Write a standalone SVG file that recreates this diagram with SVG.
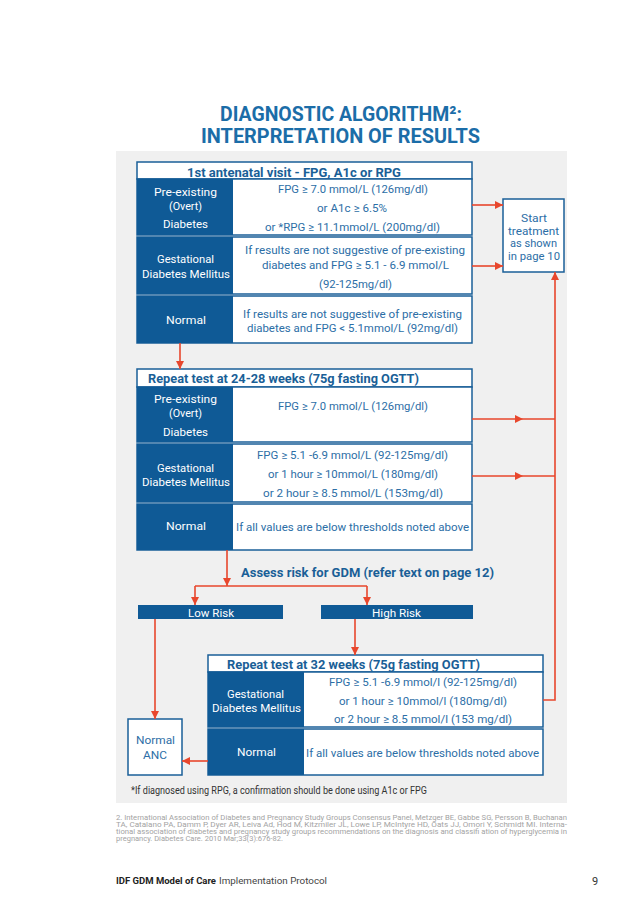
<svg xmlns="http://www.w3.org/2000/svg" width="638" height="905" viewBox="0 0 638 905">
<style>
text{font-family:Roboto,"Liberation Sans",sans-serif}
.title{font-size:21px;font-weight:bold;fill:#1b6da8}
.hdr{font-size:12.5px;font-weight:bold;fill:#1a5f97}
.lt{font-size:11.5px;fill:#ffffff}
.rt{font-size:11.5px;fill:#2c6ea6}
.st{font-size:10.5px;fill:#2c6ea6}
.row{fill:#ffffff;stroke:#1a5f98;stroke-width:1.5}
.dk{fill:#0f5a96}
.box{fill:#ffffff;stroke:#1a5f98;stroke-width:1.5}
.con{fill:none;stroke:#e8472d;stroke-width:1.6}
.ref{font-size:6.5px;fill:#a3a3a3}
</style>
<defs>
<marker id="ah" viewBox="0 0 10 10" refX="10" refY="5" markerWidth="9" markerHeight="8" markerUnits="userSpaceOnUse" orient="auto"><path d="M0,0 L10,5 L0,10 z" fill="#e8472d"/></marker>
</defs>
<rect x="0" y="0" width="638" height="905" fill="#ffffff"/>
<rect x="116" y="151" width="451" height="652" fill="#f0f0f0"/>
<g id="title">
<text class="title" x="220" y="121" textLength="242" lengthAdjust="spacingAndGlyphs">DIAGNOSTIC ALGORITHM²:</text>
<text class="title" x="201" y="143" textLength="279" lengthAdjust="spacingAndGlyphs">INTERPRETATION OF RESULTS</text>
</g>
<g id="box1">
<rect x="137" y="162" width="335" height="181" fill="#ffffff"/>
<rect class="row" x="137" y="162" width="335" height="17"/>
<text class="hdr" x="187" y="176.5" textLength="214" lengthAdjust="spacingAndGlyphs">1st antenatal visit - FPG, A1c or RPG</text>
<rect class="row" x="137" y="179" width="335" height="56"/>
<rect class="dk" x="137" y="179" width="96" height="56"/>
<rect class="row" x="137" y="237" width="335" height="57"/>
<rect class="dk" x="137" y="237" width="96" height="57"/>
<rect class="row" x="137" y="296" width="335" height="47"/>
<rect class="dk" x="137" y="296" width="96" height="47"/>
<text class="lt" x="154" y="196" textLength="63" lengthAdjust="spacingAndGlyphs">Pre-existing</text>
<text class="lt" x="169" y="210" textLength="33" lengthAdjust="spacingAndGlyphs">(Overt)</text>
<text class="lt" x="163" y="228" textLength="45" lengthAdjust="spacingAndGlyphs">Diabetes</text>
<text class="rt" x="278" y="193" textLength="150" lengthAdjust="spacingAndGlyphs">FPG ≥ 7.0 mmol/L (126mg/dl)</text>
<text class="rt" x="317" y="212" textLength="70" lengthAdjust="spacingAndGlyphs">or A1c ≥ 6.5%</text>
<text class="rt" x="265" y="231" textLength="175" lengthAdjust="spacingAndGlyphs">or *RPG ≥ 11.1mmol/L (200mg/dl)</text>
<text class="lt" x="157" y="263" textLength="57" lengthAdjust="spacingAndGlyphs">Gestational</text>
<text class="lt" x="142" y="278" textLength="88" lengthAdjust="spacingAndGlyphs">Diabetes Mellitus</text>
<text class="rt" x="245" y="254" textLength="220" lengthAdjust="spacingAndGlyphs">If results are not suggestive of pre-existing</text>
<text class="rt" x="262" y="269" textLength="187" lengthAdjust="spacingAndGlyphs">diabetes and FPG ≥ 5.1 - 6.9 mmol/L</text>
<text class="rt" x="319" y="288" textLength="73" lengthAdjust="spacingAndGlyphs">(92-125mg/dl)</text>
<text class="lt" x="166" y="324" textLength="40" lengthAdjust="spacingAndGlyphs">Normal</text>
<text class="rt" x="243" y="318" textLength="219" lengthAdjust="spacingAndGlyphs">If results are not suggestive of pre-existing</text>
<text class="rt" x="247" y="332" textLength="211" lengthAdjust="spacingAndGlyphs">diabetes and FPG &lt; 5.1mmol/L (92mg/dl)</text>
</g>
<g id="start">
<rect class="box" x="503" y="199" width="61" height="73"/>
<text class="st" x="521" y="222" textLength="26" lengthAdjust="spacingAndGlyphs">Start</text>
<text class="st" x="508" y="234.5" textLength="51" lengthAdjust="spacingAndGlyphs">treatment</text>
<text class="st" x="510" y="247" textLength="47" lengthAdjust="spacingAndGlyphs">as shown</text>
<text class="st" x="508" y="259.5" textLength="52" lengthAdjust="spacingAndGlyphs">in page 10</text>
</g>
<g id="box2">
<rect x="137" y="369" width="335" height="181" fill="#ffffff"/>
<rect class="row" x="137" y="369" width="335" height="18"/>
<text class="hdr" x="148" y="383" textLength="271" lengthAdjust="spacingAndGlyphs">Repeat test at 24-28 weeks (75g fasting OGTT)</text>
<rect class="row" x="137" y="387" width="335" height="55"/>
<rect class="dk" x="137" y="387" width="96" height="55"/>
<rect class="row" x="137" y="444" width="335" height="58"/>
<rect class="dk" x="137" y="444" width="96" height="58"/>
<rect class="row" x="137" y="504" width="335" height="46"/>
<rect class="dk" x="137" y="504" width="96" height="46"/>
<text class="lt" x="154" y="403" textLength="63" lengthAdjust="spacingAndGlyphs">Pre-existing</text>
<text class="lt" x="169" y="417" textLength="33" lengthAdjust="spacingAndGlyphs">(Overt)</text>
<text class="lt" x="163" y="436" textLength="45" lengthAdjust="spacingAndGlyphs">Diabetes</text>
<text class="rt" x="278" y="410" textLength="150" lengthAdjust="spacingAndGlyphs">FPG ≥ 7.0 mmol/L (126mg/dl)</text>
<text class="lt" x="157" y="472" textLength="57" lengthAdjust="spacingAndGlyphs">Gestational</text>
<text class="lt" x="142" y="486" textLength="88" lengthAdjust="spacingAndGlyphs">Diabetes Mellitus</text>
<text class="rt" x="257" y="459" textLength="191" lengthAdjust="spacingAndGlyphs">FPG ≥ 5.1 -6.9 mmol/L (92-125mg/dl)</text>
<text class="rt" x="268" y="478" textLength="170" lengthAdjust="spacingAndGlyphs">or 1 hour ≥ 10mmol/L (180mg/dl)</text>
<text class="rt" x="263" y="497" textLength="180" lengthAdjust="spacingAndGlyphs">or 2 hour ≥  8.5 mmol/L (153mg/dl)</text>
<text class="lt" x="166" y="530" textLength="40" lengthAdjust="spacingAndGlyphs">Normal</text>
<text class="rt" x="236" y="531" textLength="233" lengthAdjust="spacingAndGlyphs">If all values are below thresholds noted above</text>
</g>
<g id="assess">
<text class="hdr" x="241" y="577" textLength="253" lengthAdjust="spacingAndGlyphs">Assess risk for GDM (refer text on page 12)</text>
</g>
<g id="lowrisk">
<rect class="dk" x="138" y="605" width="145" height="14"/>
<text class="lt" x="188" y="616.5" font-size="11" textLength="46" lengthAdjust="spacingAndGlyphs">Low Risk</text>
</g>
<g id="highrisk">
<rect class="dk" x="321" y="605" width="152" height="14"/>
<text class="lt" x="372" y="616.5" font-size="11" textLength="49" lengthAdjust="spacingAndGlyphs">High Risk</text>
</g>
<g id="box3">
<rect x="208" y="655" width="335" height="120" fill="#ffffff"/>
<rect class="row" x="208" y="655" width="335" height="17"/>
<text class="hdr" x="227" y="669" textLength="253" lengthAdjust="spacingAndGlyphs">Repeat test at 32 weeks (75g fasting OGTT)</text>
<rect class="row" x="208" y="672" width="335" height="55"/>
<rect class="dk" x="208" y="672" width="96" height="55"/>
<rect class="row" x="208" y="729" width="335" height="46"/>
<rect class="dk" x="208" y="729" width="96" height="46"/>
<text class="lt" x="227" y="698" textLength="57" lengthAdjust="spacingAndGlyphs">Gestational</text>
<text class="lt" x="212" y="712" textLength="89" lengthAdjust="spacingAndGlyphs">Diabetes Mellitus</text>
<text class="rt" x="329" y="686" textLength="188" lengthAdjust="spacingAndGlyphs">FPG ≥ 5.1 -6.9 mmol/l (92-125mg/dl)</text>
<text class="rt" x="339" y="705" textLength="168" lengthAdjust="spacingAndGlyphs">or 1 hour ≥ 10mmol/l (180mg/dl)</text>
<text class="rt" x="334" y="723" textLength="178" lengthAdjust="spacingAndGlyphs">or 2 hour ≥  8.5 mmol/l (153 mg/dl)</text>
<text class="lt" x="237" y="756" textLength="39" lengthAdjust="spacingAndGlyphs">Normal</text>
<text class="rt" x="306" y="757" textLength="233" lengthAdjust="spacingAndGlyphs">If all values are below thresholds noted above</text>
</g>
<g id="normalanc">
<rect class="box" x="128" y="719" width="54" height="56"/>
<text class="rt" x="136" y="744" textLength="39" lengthAdjust="spacingAndGlyphs">Normal</text>
<text class="rt" x="143" y="759" textLength="24" lengthAdjust="spacingAndGlyphs">ANC</text>
</g>
<g id="connectors">
<path class="con" d="M472,205 L503,205" marker-end="url(#ah)"/>
<path class="con" d="M472,266 L503,266" marker-end="url(#ah)"/>
<path class="con" d="M180,343 L180,369" marker-end="url(#ah)"/>
<path class="con" d="M472,419 L523,419 L555,419" marker-mid="url(#ah)"/>
<path class="con" d="M472,476 L523,476 L555,476" marker-mid="url(#ah)"/>
<path class="con" d="M543,700 L555,700 L555,272" marker-end="url(#ah)"/>
<path class="con" d="M227,550 L227,586" marker-end="url(#ah)"/>
<path class="con" d="M195,586 L367,586"/>
<path class="con" d="M195,586 L195,605" marker-end="url(#ah)"/>
<path class="con" d="M367,586 L367,605" marker-end="url(#ah)"/>
<path class="con" d="M155,619 L155,719" marker-end="url(#ah)"/>
<path class="con" d="M355,619 L355,655" marker-end="url(#ah)"/>
<path class="con" d="M208,761 L182,761" marker-end="url(#ah)"/>
</g>
<g id="notes">
<text x="131" y="794" font-size="10" fill="#333333" textLength="296" lengthAdjust="spacingAndGlyphs">*If diagnosed using RPG, a confirmation should be done using A1c or FPG</text>
<text class="ref" x="116" y="819.5" textLength="451" lengthAdjust="spacingAndGlyphs">2. International Association of Diabetes and Pregnancy Study Groups Consensus Panel, Metzger BE, Gabbe SG, Persson B, Buchanan</text>
<text class="ref" x="116" y="826.5" textLength="451" lengthAdjust="spacingAndGlyphs">TA, Catalano PA, Damm P, Dyer AR, Leiva Ad, Hod M, Kitzmiler JL, Lowe LP, McIntyre HD, Oats JJ, Omori Y, Schmidt MI. Interna-</text>
<text class="ref" x="116" y="833.5" textLength="451" lengthAdjust="spacingAndGlyphs">tional association of diabetes and pregnancy study groups recommendations on the diagnosis and classifi ation of hyperglycemia in</text>
<text class="ref" x="116" y="840.5" textLength="167" lengthAdjust="spacingAndGlyphs">pregnancy. Diabetes Care. 2010 Mar;33(3):676-82.</text>
</g>
<g id="footer">
<text x="116" y="884" font-size="9.5" font-weight="bold" fill="#222222" textLength="100" lengthAdjust="spacingAndGlyphs">IDF GDM Model of Care</text>
<text x="219" y="884" font-size="9.5" fill="#444444" textLength="108" lengthAdjust="spacingAndGlyphs">Implementation Protocol</text>
<text x="592" y="885" font-size="11" fill="#333333">9</text>
</g>
</svg>
